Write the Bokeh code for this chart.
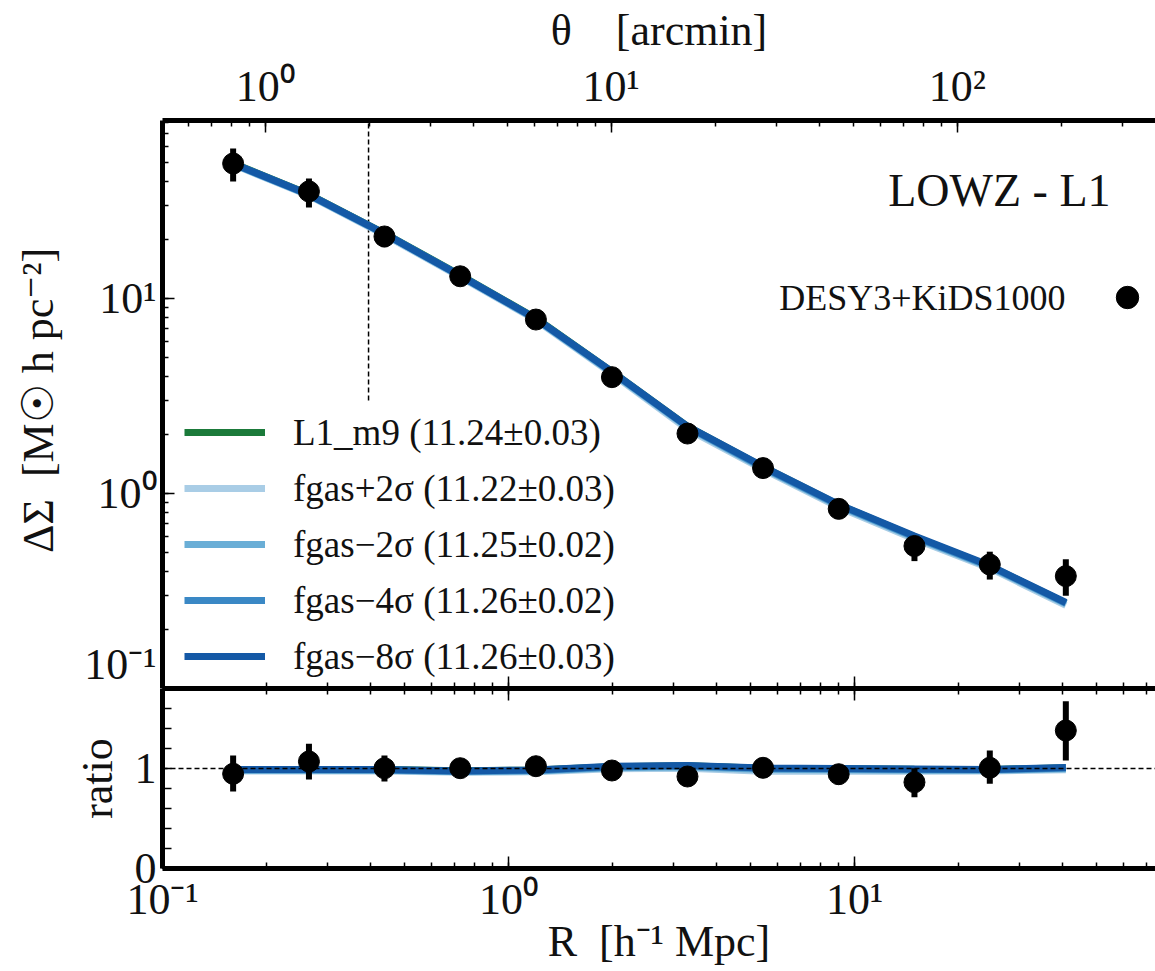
from bokeh.plotting import figure
from bokeh.models import (LogAxis, LinearAxis, Range1d, LogScale, LogTicker, FixedTicker,
                          CustomJSTickFormatter, Span, Label, Legend, LegendItem)
from bokeh.layouts import column
from bokeh.embed import file_html
from bokeh.resources import INLINE

FONT = "'Liberation Serif', serif"

# ---------------- data ----------------
R = [0.160, 0.265, 0.438, 0.725, 1.20, 1.99, 3.29, 5.44, 9.00, 14.9, 24.6, 40.8]

ds_data = [49.2, 35.4, 20.8, 13.0, 7.80, 3.95, 2.03, 1.35, 0.834, 0.538, 0.432, 0.377]
ds_lo = [39.8, 29.3, 18.3, 11.8, 7.30, 3.75, 1.93, 1.29, 0.800, 0.450, 0.362, 0.299]
ds_hi = [58.8, 41.2, 23.2, 14.2, 8.30, 4.15, 2.13, 1.41, 0.870, 0.600, 0.503, 0.460]

ratio_data = [0.947, 1.070, 1.003, 1.003, 1.023, 0.980, 0.920, 1.007, 0.943, 0.863, 1.007, 1.380]
ratio_lo = [0.770, 0.890, 0.870, 0.930, 0.960, 0.930, 0.870, 0.950, 0.840, 0.713, 0.847, 1.080]
ratio_hi = [1.130, 1.247, 1.130, 1.070, 1.090, 1.030, 0.970, 1.060, 1.040, 1.003, 1.180, 1.673]

model_names = ["L1_m9 (11.24±0.03)", "fgas+2σ (11.22±0.03)", "fgas−2σ (11.25±0.02)",
               "fgas−4σ (11.26±0.02)", "fgas−8σ (11.26±0.03)"]
model_colors = ["#1b7a3a", "#a9cde6", "#6aaed6", "#3a88c5", "#1459a6"]

ds_m9 = [49.4, 34.2, 21.6, 13.2, 7.92, 4.22, 2.21, 1.37, 0.875, 0.600, 0.424, 0.274]
ds_p2 = [48.6, 33.7, 21.2, 12.9, 7.75, 4.12, 2.14, 1.33, 0.850, 0.585, 0.414, 0.267]
ds_m2 = [48.9, 33.9, 21.4, 13.0, 7.82, 4.17, 2.18, 1.35, 0.865, 0.595, 0.420, 0.272]
ds_m4 = [49.1, 34.0, 21.5, 13.1, 7.86, 4.20, 2.20, 1.36, 0.872, 0.600, 0.424, 0.274]
ds_m8 = [49.2, 34.1, 21.5, 13.1, 7.89, 4.22, 2.21, 1.375, 0.879, 0.605, 0.427, 0.276]

ratio_m9 = [0.990, 0.990, 0.990, 0.978, 0.985, 1.018, 1.028, 1.003, 0.998, 0.993, 0.990, 1.008]
ratio_p2 = [0.975, 0.975, 0.975, 0.962, 0.968, 0.998, 1.003, 0.972, 0.972, 0.972, 0.975, 0.988]
ratio_m2 = [0.982, 0.982, 0.982, 0.968, 0.976, 1.008, 1.016, 0.990, 0.988, 0.983, 0.983, 0.998]
ratio_m4 = [0.987, 0.987, 0.985, 0.973, 0.981, 1.015, 1.024, 0.999, 0.995, 0.989, 0.988, 1.004]
ratio_m8 = [0.990, 0.990, 0.990, 0.976, 0.986, 1.022, 1.030, 1.005, 1.000, 0.995, 0.990, 1.010]

ds_models = [ds_m9, ds_p2, ds_m2, ds_m4, ds_m8]
ratio_models = [ratio_m9, ratio_p2, ratio_m2, ratio_m4, ratio_m8]

R_RANGE = (0.1, 74.1)
DS_RANGE = (0.1, 81.8)
RATIO_RANGE = (0.0, 1.8)
THETA_RANGE = (0.505, 374.0)
RATIO_TICKS = [0.0, 0.2, 0.4, 0.6, 0.8, 1.0, 1.2, 1.4, 1.6]
R_CUT = 0.394
DS_CUT_LOW = 3.0

LOG_FMT_CODE = """
const e = Math.round(Math.log10(tick));
const m = {"-": "\\u207b", "0": "\\u2070", "1": "\\u00b9", "2": "\\u00b2", "3": "\\u00b3"};
let s = "";
for (const c of String(e)) { s += m[c]; }
return "10" + s;
"""
RATIO_FMT_CODE = """
return (Math.abs(tick - Math.round(tick)) < 1e-6) ? String(Math.round(tick)) : "";
"""
EMPTY_FMT_CODE = 'return "";'


def style_axis(ax, labels=True, size="44px"):
    ax.axis_line_width = 5
    ax.axis_line_color = "black"
    ax.major_tick_in = 12
    ax.major_tick_out = 0
    ax.minor_tick_in = 6
    ax.minor_tick_out = 0
    ax.major_tick_line_width = 1.5
    ax.minor_tick_line_width = 1.5
    ax.major_label_text_font = FONT
    ax.axis_label_text_font = FONT
    ax.axis_label_text_font_style = "normal"
    ax.axis_label_text_font_size = "44px"
    ax.axis_label_text_color = "#111111"
    ax.major_label_text_color = "#111111"
    if labels:
        ax.major_label_text_font_size = size
    else:
        ax.formatter = CustomJSTickFormatter(code=EMPTY_FMT_CODE)
        ax.major_label_text_font_size = "1px"
        ax.major_label_standoff = 0


def log_ticker():
    return LogTicker(mantissas=[1], desired_num_ticks=3, num_minor_ticks=10)


# ---------------- top panel ----------------
p1 = figure(frame_width=993, frame_height=568, x_axis_type="log", y_axis_type="log",
            x_range=Range1d(*R_RANGE), y_range=Range1d(*DS_RANGE),
            output_backend="svg", toolbar_location=None,
            min_border_left=162, min_border_right=0, min_border_top=120, min_border_bottom=0)
p1.outline_line_color = None
p1.grid.visible = False

p1.xaxis.ticker = log_ticker()
style_axis(p1.xaxis[0], labels=False)
p1.yaxis.ticker = log_ticker()
p1.yaxis.formatter = CustomJSTickFormatter(code=LOG_FMT_CODE)
style_axis(p1.yaxis[0])
p1.yaxis.major_label_standoff = 6
p1.yaxis.axis_label = "ΔΣ\u2002[M☉ h pc⁻²]"
p1.yaxis.axis_label_standoff = 18

p1.extra_x_ranges = {"theta": Range1d(*THETA_RANGE)}
p1.extra_x_scales = {"theta": LogScale()}
top_ax = LogAxis(x_range_name="theta", ticker=log_ticker(),
                 formatter=CustomJSTickFormatter(code=LOG_FMT_CODE),
                 axis_label="θ\u2003[arcmin]")
style_axis(top_ax)
top_ax.major_label_standoff = 10
top_ax.axis_label_standoff = 4
p1.add_layout(top_ax, "above")

# cut line
p1.segment(x0=[R_CUT], y0=[DS_CUT_LOW], x1=[R_CUT], y1=[DS_RANGE[1]],
           line_color="black", line_width=1.5, line_dash="5 3")

renderers = []
for name, col, ys in zip(model_names, model_colors, ds_models):
    r = p1.line(R, ys, line_color=col, line_width=7)
    renderers.append(r)

p1.segment(x0=R, y0=ds_lo, x1=R, y1=ds_hi, line_color="black", line_width=6)
pts = p1.scatter(R, ds_data, size=21, color="black")

legend = Legend(items=[LegendItem(label=n, renderers=[r]) for n, r in zip(model_names, renderers)],
                location=(22, 4), label_text_font=FONT, label_text_font_size="37px",
                label_text_color="#111111",
                glyph_width=81, glyph_height=56, label_height=56, spacing=0, padding=0,
                margin=0, label_standoff=28, background_fill_alpha=0, border_line_color=None)
p1.add_layout(legend)

leg2 = Legend(items=[LegendItem(label="", renderers=[pts])], location=(937, 363),
              glyph_width=56, glyph_height=56, label_height=56, padding=0, margin=0,
              label_standoff=0, label_text_font_size="1px",
              background_fill_alpha=0, border_line_color=None)
p1.add_layout(leg2)

p1.add_layout(Label(x=903, y=391, x_units="screen", y_units="screen", text="DESY3+KiDS1000",
                    text_font=FONT, text_font_size="36px", text_align="right",
                    text_baseline="middle", text_color="#111111"))
p1.add_layout(Label(x=948, y=498, x_units="screen", y_units="screen", text="LOWZ - L1",
                    text_font=FONT, text_font_size="46px", text_align="right",
                    text_baseline="middle", text_color="#111111"))

# ---------------- ratio panel ----------------
p2 = figure(frame_width=993, frame_height=180, x_axis_type="log",
            x_range=p1.x_range, y_range=Range1d(*RATIO_RANGE),
            output_backend="svg", toolbar_location=None,
            min_border_left=162, min_border_right=0, min_border_top=0, min_border_bottom=103)
p2.outline_line_color = None
p2.grid.visible = False

p2.xaxis.ticker = log_ticker()
p2.xaxis.formatter = CustomJSTickFormatter(code=LOG_FMT_CODE)
style_axis(p2.xaxis[0])
p2.xaxis.axis_label = "R\u2002[h⁻¹ Mpc]"
p2.xaxis.major_label_standoff = 6
p2.xaxis.axis_label_standoff = -10

p2.yaxis.ticker = FixedTicker(ticks=RATIO_TICKS)
p2.yaxis.formatter = CustomJSTickFormatter(code=RATIO_FMT_CODE)
style_axis(p2.yaxis[0])
p2.yaxis.major_tick_in = 9
p2.yaxis.axis_label = "ratio"
p2.yaxis.major_label_standoff = 6
p2.yaxis.axis_label_standoff = 10

top2 = LogAxis(ticker=log_ticker())
style_axis(top2, labels=False)
p2.add_layout(top2, "above")

p2.add_layout(Span(location=1.0, dimension="width", line_color="black", line_width=1.5,
                   line_dash="5 3"))

for col, ys in zip(model_colors, ratio_models):
    p2.line(R, ys, line_color=col, line_width=7)

p2.segment(x0=R, y0=ratio_lo, x1=R, y1=ratio_hi, line_color="black", line_width=6)
p2.scatter(R, ratio_data, size=21, color="black")

layout = column(p1, p2, spacing=0)
open("out.html", "w").write(file_html(layout, INLINE))
